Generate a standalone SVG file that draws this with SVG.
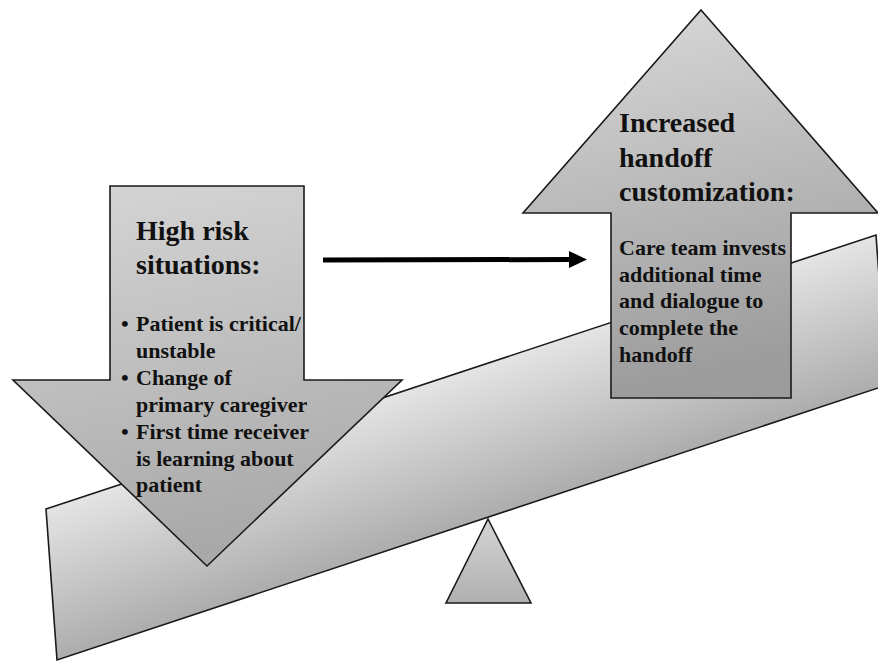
<svg xmlns="http://www.w3.org/2000/svg" width="878" height="662" viewBox="0 0 878 662">
<defs>
<linearGradient id="gBeam" gradientUnits="userSpaceOnUse" x1="400" y1="392" x2="445" y2="528">
<stop offset="0" stop-color="#e4e4e4"/>
<stop offset="1" stop-color="#aeaeae"/>
</linearGradient>
<linearGradient id="gDown" x1="0" y1="0" x2="0.2" y2="1">
<stop offset="0" stop-color="#d6d6d6"/>
<stop offset="1" stop-color="#a9a9a9"/>
</linearGradient>
<linearGradient id="gUp" x1="0" y1="0" x2="0.2" y2="1">
<stop offset="0" stop-color="#dadada"/>
<stop offset="1" stop-color="#9c9c9c"/>
</linearGradient>
<linearGradient id="gFul" x1="0" y1="0" x2="0" y2="1">
<stop offset="0" stop-color="#d4d4d4"/>
<stop offset="1" stop-color="#b0b0b0"/>
</linearGradient>
</defs>
<style>
.shape{stroke:#1a1a1a;stroke-width:1.6;stroke-linejoin:miter}
.h{font-family:"Liberation Serif","Times New Roman",serif;font-weight:bold;font-size:28px;fill:#111}
.b{font-family:"Liberation Serif","Times New Roman",serif;font-weight:bold;font-size:22px;fill:#111}
</style>
<rect width="878" height="662" fill="#ffffff"/>
<g id="fulcrum">
<polygon class="shape" fill="url(#gFul)" points="488,519 531,603 446,603"/>
</g>
<g id="beam">
<polygon class="shape" fill="url(#gBeam)" points="46,509 876,235 887,385 57,660"/>
</g>
<g id="high-risk">
<polygon class="shape" fill="url(#gDown)" points="110,186 304,186 304,380 402,380 207,566 13,380 110,380"/>
<text class="h" x="136" y="240">High risk</text>
<text class="h" x="136" y="274">situations:</text>
<text class="b" x="121" y="331">•</text>
<text class="b" x="136" y="331">Patient is critical/</text>
<text class="b" x="136" y="358">unstable</text>
<text class="b" x="121" y="385">•</text>
<text class="b" x="136" y="385">Change of</text>
<text class="b" x="136" y="412">primary caregiver</text>
<text class="b" x="121" y="439">•</text>
<text class="b" x="136" y="439">First time receiver</text>
<text class="b" x="136" y="466">is learning about</text>
<text class="b" x="136" y="492">patient</text>
</g>
<g id="customization">
<polygon class="shape" fill="url(#gUp)" points="701,10 878,213 791,213 791,398 611,398 611,213 523,213"/>
<text class="h" x="619" y="132">Increased</text>
<text class="h" x="619" y="167">handoff</text>
<text class="h" x="619" y="201">customization:</text>
<text class="b" x="619" y="255">Care team invests</text>
<text class="b" x="619" y="282">additional time</text>
<text class="b" x="619" y="308">and dialogue to</text>
<text class="b" x="619" y="335">complete the</text>
<text class="b" x="619" y="362">handoff</text>
</g>
<g id="connectors">
<line x1="323" y1="260" x2="571" y2="259.5" stroke="#000" stroke-width="5"/>
<polygon points="569,251 587,259.5 569,268" fill="#000"/>
</g>
</svg>
